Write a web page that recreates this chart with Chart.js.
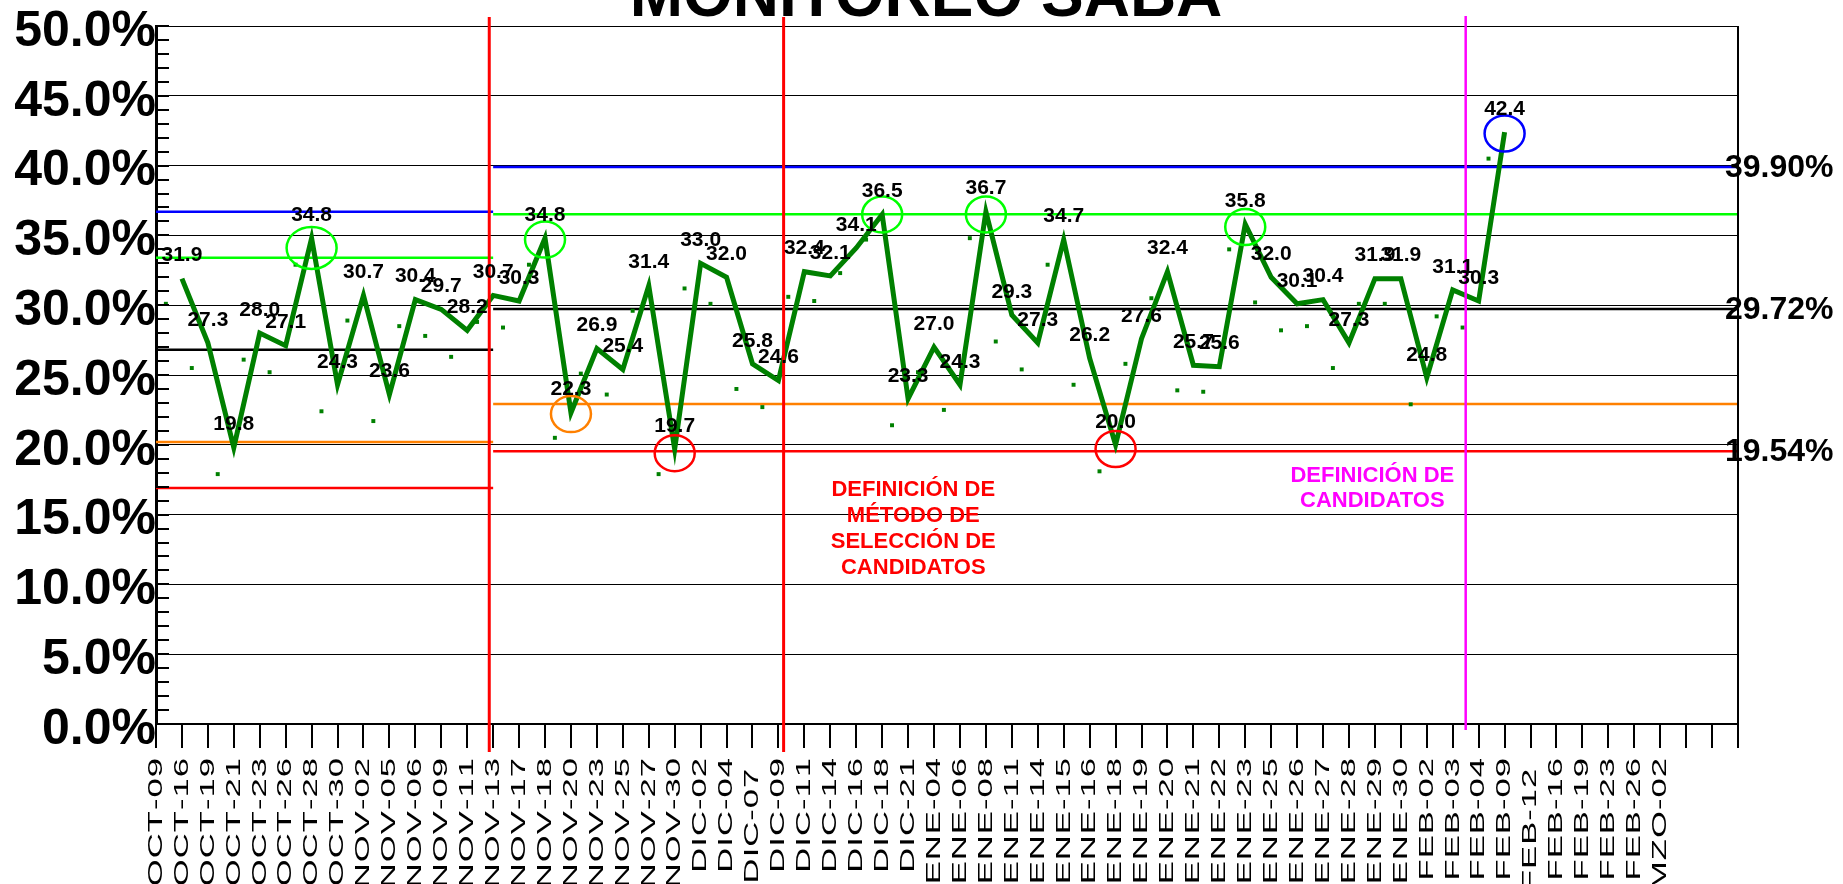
<!DOCTYPE html>
<html lang="es">
<head>
<meta charset="utf-8">
<title>Monitoreo SABA</title>
<script src="https://cdn.jsdelivr.net/npm/chart.js@4.4.1/dist/chart.umd.min.js"></script>
<style>
  html, body { margin: 0; padding: 0; background: #fff; overflow: hidden; }
  #grafica { display: block; }
</style>
</head>
<body>
<canvas id="grafica" width="1843" height="884"></canvas>
<script>
// Fechas de corte (eje X)
var fechas = ['OCT-09', 'OCT-16', 'OCT-19', 'OCT-21', 'OCT-23', 'OCT-26', 'OCT-28', 'OCT-30',
  'NOV-02', 'NOV-05', 'NOV-06', 'NOV-09', 'NOV-11', 'NOV-13', 'NOV-17', 'NOV-18', 'NOV-20',
  'NOV-23', 'NOV-25', 'NOV-27', 'NOV-30', 'DIC-02', 'DIC-04', 'DIC-07 ', 'DIC-09', 'DIC-11',
  'DIC-14', 'DIC-16', 'DIC-18', 'DIC-21', 'ENE-04', 'ENE-06', 'ENE-08', 'ENE-11', 'ENE-14',
  'ENE-15', 'ENE-16', 'ENE-18', 'ENE-19', 'ENE-20', 'ENE-21', 'ENE-22', 'ENE-23', 'ENE-25',
  'ENE-26', 'ENE-27', 'ENE-28', 'ENE-29', 'ENE-30', 'FEB-02', 'FEB-03', 'FEB-04', 'FEB-09',
  'FEB-12 ', 'FEB-16', 'FEB-19', 'FEB-23', 'FEB-26', 'MZO-02'];

// % SABA por fecha (mismo índice que fechas; OCT-09 sin dato)
var valores = [null, 31.9, 27.3, 19.8, 28.0, 27.1, 34.8, 24.3, 30.7, 23.6, 30.4, 29.7, 28.2,
  30.7, 30.3, 34.8, 22.3, 26.9, 25.4, 31.4, 19.7, 33.0, 32.0, 25.8, 24.6, 32.4, 32.1, 34.1,
  36.5, 23.3, 27.0, 24.3, 36.7, 29.3, 27.3, 34.7, 26.2, 20.0, 27.6, 32.4, 25.7, 25.6, 35.8,
  32.0, 30.1, 30.4, 27.3, 31.9, 31.9, 24.8, 31.1, 30.3, 42.4];

// marcadores pequeños (van un poco a la izquierda de cada punto)
var puntos = [30.1, 25.5, 17.9, 26.1, 25.2, 32.9, 22.4, 28.9, 21.7, 28.5, 27.8, 26.3, 28.8,
  28.4, 32.9, 20.5, 25.1, 23.6, 29.6, 17.9, 31.2, 30.1, 24.0, 22.7, 30.6, 30.3, 32.3, 34.7,
  21.4, 25.2, 22.5, 34.8, 27.4, 25.4, 32.9, 24.3, 18.1, 25.8, 30.5, 23.9, 23.8, 34.0, 30.2,
  28.2, 28.5, 25.5, 30.1, 30.1, 22.9, 29.2, 28.4, 40.5];
var desfasePuntos = 0.38;

// Límites de control por tramo
var tramos = [[0, 13], [13, 61]];
var limSup = [36.7, 39.90];
var zonaSup = [33.4, 36.51];
var media = [26.8, 29.72];
var zonaInf = [20.2, 22.93];
var limInf = [16.9, 19.54];

// Líneas verticales (cambios de método)
var cortesRojos = [12.85, 24.2];
var corteMagenta = 50.5;

// Puntos encerrados en círculo
var circIdx = [6, 15, 16, 20, 28, 32, 37, 42, 52];
var circY = [34.1, 34.7, 22.2, 19.4, 36.5, 36.5, 19.7, 35.6, 42.3];
var circColor = ['#00ff00', '#00ff00', '#ff8000', '#ff0000', '#00ff00', '#00ff00', '#ff0000', '#00ff00', '#0000ff'];
var circRx = [25, 20, 20, 20, 20, 20, 20, 20, 20];
var circRy = [21, 18, 18, 18, 18, 18, 18, 18, 18];

var fuente = "'Liberation Sans', Arial, sans-serif";

// Serie principal
var datosLinea = [];
valores.forEach(function (v, i) {
  if (v !== null) datosLinea.push({ x: i, y: v });
});

var datosPuntos = puntos.map(function (v, i) {
  return { x: i + desfasePuntos, y: v };
});

// Crea un segmento horizontal por tramo
function segmentos(lista, color, ancho) {
  return tramos.map(function (t, k) {
    return {
      data: [{ x: t[0], y: lista[k] }, { x: t[1], y: lista[k] }],
      borderColor: color,
      borderWidth: ancho,
      pointRadius: 0,
      fill: false
    };
  });
}

var datasets = [{
  data: datosLinea,
  borderColor: '#008000',
  borderWidth: 5,
  pointRadius: 0,
  tension: 0,
  borderJoinStyle: 'miter',
  fill: false
}, {
  data: datosPuntos,
  showLine: false,
  pointStyle: 'rect',
  pointRadius: 2.8,
  pointBorderWidth: 0,
  pointBackgroundColor: '#008000'
}].concat(
  segmentos(limSup, '#0000ff', 2.5),
  segmentos(zonaSup, '#00ff00', 2.5),
  segmentos(media, '#000000', 2.5),
  segmentos(zonaInf, '#ff8000', 2.5),
  segmentos(limInf, '#ff0000', 2.5)
);

// Plugin para textos, marcas y líneas extra
var extras = {
  id: 'extras',
  afterDatasetsDraw: function (chart) {
    var ctx = chart.ctx;
    var xs = chart.scales.x;
    var ys = chart.scales.y;
    var area = chart.chartArea;
    ctx.save();

    // marcas menores del eje Y hacia adentro
    ctx.strokeStyle = '#000';
    ctx.lineWidth = 2;
    for (var v = 0; v <= 50; v++) {
      var py = Math.round(ys.getPixelForValue(v));
      ctx.beginPath();
      ctx.moveTo(area.left, py);
      ctx.lineTo(area.left + 13, py);
      ctx.stroke();
    }

    // borde derecho
    ctx.lineWidth = 2;
    ctx.beginPath();
    ctx.moveTo(area.right, area.top);
    ctx.lineTo(area.right, area.bottom);
    ctx.stroke();

    // líneas verticales
    ctx.strokeStyle = '#ff0000';
    ctx.lineWidth = 3;
    cortesRojos.forEach(function (c) {
      var px = xs.getPixelForValue(c);
      ctx.beginPath();
      ctx.moveTo(px, area.top - 9);
      ctx.lineTo(px, area.bottom + 28);
      ctx.stroke();
    });
    ctx.strokeStyle = '#ff00ff';
    ctx.lineWidth = 2.5;
    var pm = xs.getPixelForValue(corteMagenta);
    ctx.beginPath();
    ctx.moveTo(pm, area.top - 10);
    ctx.lineTo(pm, area.bottom + 6);
    ctx.stroke();

    // círculos
    ctx.lineWidth = 2.5;
    circIdx.forEach(function (idx, k) {
      ctx.strokeStyle = circColor[k];
      ctx.beginPath();
      ctx.ellipse(xs.getPixelForValue(idx), ys.getPixelForValue(circY[k]), circRx[k], circRy[k], 0, 0, Math.PI * 2);
      ctx.stroke();
    });

    // etiquetas de datos
    ctx.fillStyle = '#000';
    ctx.font = 'bold 21px ' + fuente;
    ctx.textAlign = 'center';
    ctx.textBaseline = 'middle';
    datosLinea.forEach(function (p) {
      ctx.fillText(p.y.toFixed(1), xs.getPixelForValue(p.x), ys.getPixelForValue(p.y) - 23);
    });

    // valores de los límites del último tramo
    ctx.font = 'bold 32px ' + fuente;
    ctx.textAlign = 'left';
    [limSup[1], media[1], limInf[1]].forEach(function (v) {
      ctx.fillText(v.toFixed(2) + '%', area.right - 13, ys.getPixelForValue(v) + 1);
    });

    // notas
    ctx.font = 'bold 22px ' + fuente;
    ctx.textAlign = 'center';
    ctx.fillStyle = '#ff0000';
    var notaRoja = ['DEFINICIÓN DE', 'MÉTODO DE', 'SELECCIÓN DE', 'CANDIDATOS'];
    var nx = xs.getPixelForValue(29.2);
    var ny = ys.getPixelForValue(16.8);
    notaRoja.forEach(function (t, i) { ctx.fillText(t, nx, ny + i * 26); });
    ctx.fillStyle = '#ff00ff';
    var notaMagenta = ['DEFINICIÓN DE', 'CANDIDATOS'];
    var mx = xs.getPixelForValue(46.9);
    var my = ys.getPixelForValue(17.8);
    notaMagenta.forEach(function (t, i) { ctx.fillText(t, mx, my + i * 25); });

    // fechas giradas (texto estirado como en el original)
    ctx.fillStyle = '#000';
    ctx.font = '21px ' + fuente;
    ctx.textAlign = 'left';
    var estira = 1.65, espacio = 1;
    fechas.forEach(function (f, i) {
      var total = 0;
      var anchos = f.split('').map(function (c) {
        var w = ctx.measureText(c).width * estira;
        total += w + espacio;
        return w;
      });
      total -= espacio;
      ctx.save();
      ctx.translate(xs.getPixelForValue(i), area.bottom + 34);
      ctx.rotate(-Math.PI / 2);
      var cur = -total;
      f.split('').forEach(function (c, j) {
        ctx.save();
        ctx.translate(cur, 0);
        ctx.scale(estira, 1);
        ctx.fillText(c, 0, 0);
        ctx.restore();
        cur += anchos[j] + espacio;
      });
      ctx.restore();
    });

    // título (cortado arriba)
    ctx.font = 'bold 64px ' + fuente;
    ctx.textAlign = 'center';
    ctx.textBaseline = 'alphabetic';
    ctx.fillText('MONITOREO SABA', 926, 16);

    ctx.restore();
  }
};

var ctx = document.getElementById('grafica').getContext('2d');
var grafica = new Chart(ctx, {
  type: 'line',
  data: { datasets: datasets },
  options: {
    responsive: false,
    animation: false,
    devicePixelRatio: 1,
    layout: { padding: { top: 26, right: 105, left: 0, bottom: 0 } },
    plugins: { legend: { display: false }, tooltip: { enabled: false } },
    scales: {
      x: {
        type: 'linear',
        min: 0,
        max: 61,
        ticks: { stepSize: 1, display: false },
        grid: { drawOnChartArea: false, drawTicks: true, tickLength: 24, color: '#000', lineWidth: 2 },
        border: { display: true, color: '#000', width: 2 },
        afterFit: function (scale) { scale.height = 160; }
      },
      y: {
        min: 0,
        max: 50,
        ticks: {
          stepSize: 5,
          padding: 0,
          labelOffset: 6,
          color: '#000',
          font: { family: fuente, size: 50, weight: 'bold', lineHeight: 1 },
          callback: function (v) { return v.toFixed(1) + '%'; }
        },
        grid: { drawTicks: false, color: '#000', lineWidth: 1 },
        border: { display: true, color: '#000', width: 3 },
        afterFit: function (scale) { scale.width = 156; }
      }
    }
  },
  plugins: [extras]
});
</script>
</body>
</html>
